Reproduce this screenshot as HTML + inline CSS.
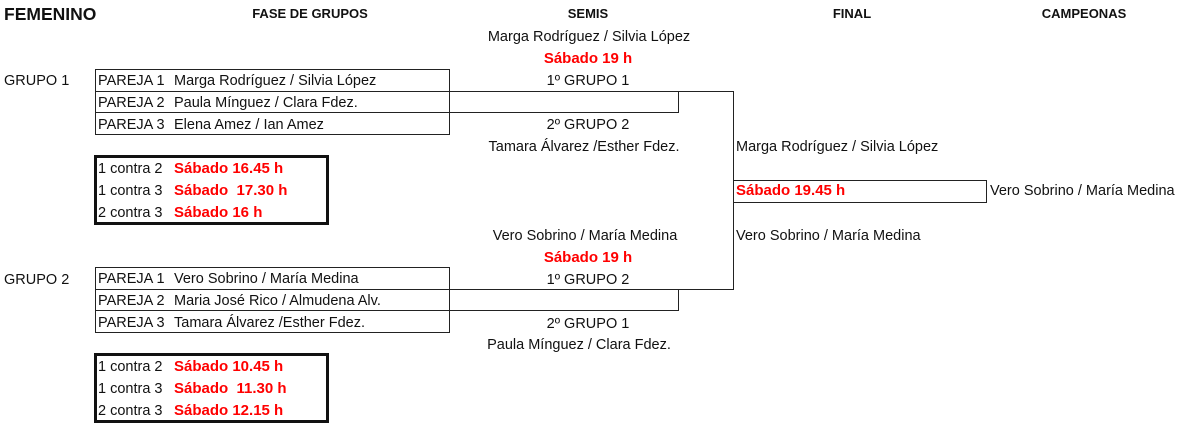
<!DOCTYPE html>
<html><head><meta charset="utf-8"><style>
body{margin:0;width:1200px;height:423px;background:#fff;position:relative;overflow:hidden;font-family:"Liberation Sans",sans-serif;font-size:14.5px;color:#111}
.t{position:absolute;line-height:22px;height:22px;white-space:nowrap}
.c{transform:translateX(-50%)}
.b{font-weight:bold}
.r{color:#f00;font-weight:bold;font-size:15px}
.ln{position:absolute;background:#222}
.box{position:absolute;border:1px solid #222;box-sizing:border-box}
.sb{position:absolute;border:3px solid #111;box-sizing:border-box}
</style></head><body>
<div class="t b" style="left:4px;top:3px;font-size:17.5px">FEMENINO</div>
<div class="t b c" style="left:310px;top:3px;font-size:13px">FASE DE GRUPOS</div>
<div class="t b c" style="left:588px;top:3px;font-size:13px">SEMIS</div>
<div class="t b c" style="left:852px;top:3px;font-size:13px">FINAL</div>
<div class="t b c" style="left:1084px;top:3px;font-size:13px">CAMPEONAS</div>

<!-- group 1 -->
<div class="t" style="left:4px;top:70px">GRUPO 1</div>
<div class="box" style="left:95px;top:69px;width:355px;height:66px"></div>
<div class="ln" style="left:95px;top:91px;width:639px;height:1px"></div>
<div class="ln" style="left:95px;top:112px;width:584px;height:1px"></div>
<div class="ln" style="left:678px;top:91px;width:1px;height:22px"></div>
<div class="t" style="left:98px;top:70px">PAREJA 1</div><div class="t" style="left:174px;top:70px">Marga Rodríguez / Silvia López</div>
<div class="t" style="left:98px;top:92px">PAREJA 2</div><div class="t" style="left:174px;top:92px">Paula Mínguez / Clara Fdez.</div>
<div class="t" style="left:98px;top:114px">PAREJA 3</div><div class="t" style="left:174px;top:114px">Elena Amez / Ian Amez</div>
<div class="sb" style="left:94px;top:155px;width:235px;height:70px"></div>
<div class="t" style="left:98px;top:158px">1 contra 2</div><div class="t r" style="left:174px;top:158px">Sábado 16.45 h</div>
<div class="t" style="left:98px;top:180px">1 contra 3</div><div class="t r" style="left:174px;top:180px">Sábado&nbsp; 17.30 h</div>
<div class="t" style="left:98px;top:202px">2 contra 3</div><div class="t r" style="left:174px;top:202px">Sábado 16 h</div>

<div class="t c" style="left:589px;top:26px">Marga Rodríguez / Silvia López</div>
<div class="t r c" style="left:588px;top:48px">Sábado 19 h</div>
<div class="t c" style="left:588px;top:70px">1º GRUPO 1</div>
<div class="t c" style="left:588px;top:114px">2º GRUPO 2</div>
<div class="t c" style="left:584px;top:136px">Tamara Álvarez /Esther Fdez.</div>

<!-- final -->
<div class="ln" style="left:733px;top:91px;width:1px;height:199px"></div>
<div class="box" style="left:733px;top:180px;width:254px;height:23px"></div>
<div class="t" style="left:736px;top:136px">Marga Rodríguez / Silvia López</div>
<div class="t r" style="left:736px;top:180px">Sábado 19.45 h</div>
<div class="t" style="left:990px;top:180px">Vero Sobrino / María Medina</div>
<div class="t" style="left:736px;top:225px">Vero Sobrino / María Medina</div>

<!-- group 2 -->
<div class="t c" style="left:585px;top:225px">Vero Sobrino / María Medina</div>
<div class="t r c" style="left:588px;top:247px">Sábado 19 h</div>
<div class="t c" style="left:588px;top:269px">1º GRUPO 2</div>
<div class="t c" style="left:588px;top:313px">2º GRUPO 1</div>
<div class="t c" style="left:579px;top:334px">Paula Mínguez / Clara Fdez.</div>

<div class="t" style="left:4px;top:269px">GRUPO 2</div>
<div class="box" style="left:95px;top:267px;width:355px;height:66px"></div>
<div class="ln" style="left:95px;top:289px;width:639px;height:1px"></div>
<div class="ln" style="left:95px;top:310px;width:584px;height:1px"></div>
<div class="ln" style="left:678px;top:289px;width:1px;height:22px"></div>
<div class="t" style="left:98px;top:268px">PAREJA 1</div><div class="t" style="left:174px;top:268px">Vero Sobrino / María Medina</div>
<div class="t" style="left:98px;top:290px">PAREJA 2</div><div class="t" style="left:174px;top:290px">Maria José Rico / Almudena Alv.</div>
<div class="t" style="left:98px;top:312px">PAREJA 3</div><div class="t" style="left:174px;top:312px">Tamara Álvarez /Esther Fdez.</div>
<div class="sb" style="left:94px;top:353px;width:235px;height:70px"></div>
<div class="t" style="left:98px;top:356px">1 contra 2</div><div class="t r" style="left:174px;top:356px">Sábado 10.45 h</div>
<div class="t" style="left:98px;top:378px">1 contra 3</div><div class="t r" style="left:174px;top:378px">Sábado&nbsp; 11.30 h</div>
<div class="t" style="left:98px;top:400px">2 contra 3</div><div class="t r" style="left:174px;top:400px">Sábado 12.15 h</div>
</body></html>
